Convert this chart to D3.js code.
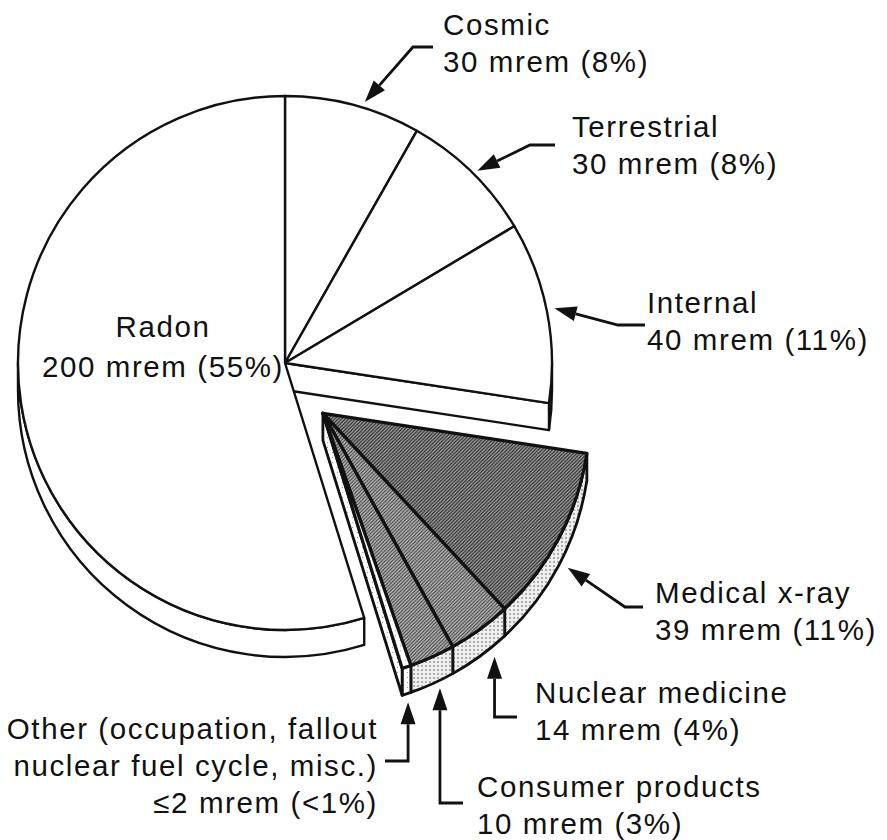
<!DOCTYPE html>
<html>
<head>
<meta charset="utf-8">
<script src="https://cdn.jsdelivr.net/npm/d3@7"></script>
<style>
    body { margin: 0; background: #fff; }
    svg text {
        font-family: "Liberation Sans", Arial, Helvetica, sans-serif;
        font-size: 29.5px;
        letter-spacing: 1.6px;
        fill: #111;
    }
</style>
</head>
<body>
<div id="vis"></div>
<script>
// annual dose by source, clockwise from 12 o'clock
let sources = ['Cosmic', 'Terrestrial', 'Internal', 'Medical x-ray', 'Nuclear medicine', 'Consumer products', 'Other', 'Radon'];
let mrem = [30, 30, 40, 39, 14, 10, 2, 200];
let manMade = [false, false, false, true, true, true, true, false];

let labelLines = [
    ['Cosmic', '30 mrem (8%)'],
    ['Terrestrial', '30 mrem (8%)'],
    ['Internal', '40 mrem (11%)'],
    ['Medical x-ray', '39 mrem (11%)'],
    ['Nuclear medicine', '14 mrem (4%)'],
    ['Consumer products', '10 mrem (3%)'],
    ['Other (occupation, fallout', 'nuclear fuel cycle, misc.)', '\u22642 mrem (<1%)'],
    ['Radon', '200 mrem (55%)']
];

let width = 887, height = 840;
let radius = 267, depth = 27;
let center = [285, 363];
let explodeDist = 63, explodeAngle = 143 * Math.PI / 180;
let lineGap = 37;
let ink = '#111';

// callout layout: where the arrow points (degrees on the pie) and where the text sits
let callouts = {
    'Cosmic':            {angle: 17,    ring: 'top',    mode: 'radial', gap: 6,  knee: [[413, 47], [433, 47]],   text: [443, 35],  anchor: 'start'},
    'Terrestrial':       {angle: 45,    ring: 'top',    mode: 'radial', gap: 5,  knee: [[530, 145], [555, 145]], text: [572, 137], anchor: 'start'},
    'Internal':          {angle: 78.5,  ring: 'top',    mode: 'radial', gap: 8,  knee: [[618, 325], [645, 325]], text: [647, 313], anchor: 'start'},
    'Medical x-ray':     {angle: 117.5, ring: 'bottom', mode: 'radial', gap: 9,  knee: [[625, 607], [643, 607]], text: [655, 603], anchor: 'start'},
    'Nuclear medicine':  {angle: 140,   ring: 'bottom', mode: 'down',   gap: 12, kneeY: 717, endX: 517, text: [535, 703], anchor: 'start'},
    'Consumer products': {angle: 154,   ring: 'bottom', mode: 'down',   gap: 8,  kneeY: 803, endX: 463, text: [477, 797], anchor: 'start'},
    'Other':             {angle: 161.4, ring: 'bottom', mode: 'down',   gap: 9,  kneeY: 761, endX: 385, text: [378, 739], anchor: 'end'}
};

let svg = d3.select('#vis')
    .append('svg')
    .attr('width', width)
    .attr('height', height);

// halftone-ish shadings
let defs = svg.append('defs');

function hatch(id, bg, lineColor, lw, step) {
    let p = defs.append('pattern')
        .attr('id', id)
        .attr('patternUnits', 'userSpaceOnUse')
        .attr('width', step)
        .attr('height', step);
    p.append('rect').attr('width', step).attr('height', step).attr('fill', bg);
    p.append('path')
        .attr('d', 'M0,' + step + ' L' + step + ',0 M-1,1 L1,-1 M' + (step - 1) + ',' + (step + 1) + ' L' + (step + 1) + ',' + (step - 1))
        .attr('stroke', lineColor)
        .attr('stroke-width', lw);
}

function dots(id, bg, dotColor, r, step) {
    let p = defs.append('pattern')
        .attr('id', id)
        .attr('patternUnits', 'userSpaceOnUse')
        .attr('width', step)
        .attr('height', step);
    p.append('rect').attr('width', step).attr('height', step).attr('fill', bg);
    p.append('circle').attr('cx', step / 2).attr('cy', step / 2).attr('r', r).attr('fill', dotColor);
}

hatch('medTop', '#a4a4a4', '#262626', 1.1, 3.5);
hatch('nucTop', '#b8b8b8', '#333', 1.0, 3.5);
dots('rimDots', '#efefef', '#5a5a5a', 0.8, 4);
dots('lightDots', '#ffffff', '#8a8a8a', 0.6, 5);

function topFill(name) {
    switch (name) {
        case 'Medical x-ray': return 'url(#medTop)';
        case 'Nuclear medicine':
        case 'Consumer products': return 'url(#nucTop)';
        case 'Other': return 'url(#lightDots)';
        default: return '#fff';
    }
}

function sideFill(name) {
    switch (name) {
        case 'Medical x-ray':
        case 'Nuclear medicine':
        case 'Consumer products': return 'url(#rimDots)';
        case 'Other': return 'url(#lightDots)';
        default: return '#fff';
    }
}

let pie = d3.pie().sort(null).value(d => d);
let slices = pie(mrem).map((d, i) => {
    d.name = sources[i];
    d.manMade = manMade[i];
    d.lines = labelLines[i];
    return d;
});

let explodedCenter = [
    center[0] + explodeDist * Math.sin(explodeAngle),
    center[1] - explodeDist * Math.cos(explodeAngle)
];

function centerOf(d) {
    return d.manMade ? explodedCenter : center;
}

function pt(c, a, r, dy) {
    return [c[0] + r * Math.sin(a), c[1] - r * Math.cos(a) + (dy || 0)];
}

// front rim of a slice (only the part facing the viewer)
function rimPath(d) {
    let c = centerOf(d);
    let lo = Math.max(d.startAngle, Math.PI / 2),
        hi = Math.min(d.endAngle, 3 * Math.PI / 2);
    if (lo >= hi) return null;
    let p = d3.path();
    let s = pt(c, lo, radius);
    p.moveTo(s[0], s[1]);
    p.arc(c[0], c[1], radius, lo - Math.PI / 2, hi - Math.PI / 2, false);
    let e = pt(c, hi, radius, depth);
    p.lineTo(e[0], e[1]);
    p.arc(c[0], c[1] + depth, radius, hi - Math.PI / 2, lo - Math.PI / 2, true);
    p.closePath();
    return p.toString();
}

// cut face along a radius
function facePath(c, a) {
    let p1 = pt(c, a, radius), p2 = pt(c, a, radius, depth);
    return 'M' + c + 'L' + p1 + 'L' + p2 + 'L' + [c[0], c[1] + depth] + 'Z';
}

let n = slices.length;
let topArc = d3.arc().innerRadius(0).outerRadius(radius);

function drawGroup(isManMade) {
    let g = svg.append('g').attr('class', isManMade ? 'man-made' : 'natural');
    let members = slices.filter(d => d.manMade === isManMade);
    let sw = isManMade ? 2.8 : 2.4;

    // rims
    g.selectAll('path.rim')
        .data(members.filter(d => rimPath(d)))
        .enter()
        .append('path')
        .attr('class', 'rim')
        .attr('d', rimPath)
        .attr('fill', d => sideFill(d.name))
        .attr('stroke', ink)
        .attr('stroke-width', sw)
        .attr('stroke-linejoin', 'round');

    // exposed cut faces where the group is split
    members.forEach(d => {
        let i = slices.indexOf(d);
        let next = slices[(i + 1) % n], prev = slices[(i - 1 + n) % n];
        if (next.manMade !== d.manMade && Math.sin(d.endAngle) > 0) {
            g.append('path').attr('d', facePath(centerOf(d), d.endAngle))
                .attr('fill', sideFill(d.name)).attr('stroke', ink).attr('stroke-width', sw).attr('stroke-linejoin', 'round');
        }
        if (prev.manMade !== d.manMade && -Math.sin(d.startAngle) > 0) {
            g.append('path').attr('d', facePath(centerOf(d), d.startAngle))
                .attr('fill', sideFill(d.name)).attr('stroke', ink).attr('stroke-width', sw).attr('stroke-linejoin', 'round');
        }
    });

    // top faces
    g.selectAll('path.top')
        .data(members)
        .enter()
        .append('path')
        .attr('class', 'top')
        .attr('transform', d => 'translate(' + centerOf(d) + ')')
        .attr('d', topArc)
        .attr('fill', d => topFill(d.name))
        .attr('stroke', ink)
        .attr('stroke-width', isManMade ? 3.2 : 2.4)
        .attr('stroke-linejoin', 'round');
}

drawGroup(false);
drawGroup(true);

// callouts
let notes = svg.append('g').attr('class', 'callouts');

slices.forEach(d => {
    let co = callouts[d.name];
    if (!co) return;
    let c = centerOf(d);
    let a = co.angle * Math.PI / 180;
    let tip, pts;
    if (co.mode === 'radial') {
        let ce = co.ring === 'bottom' ? [c[0], c[1] + depth] : c;
        tip = pt(ce, a, radius + co.gap);
        pts = [co.knee[1], co.knee[0], tip];
    } else {
        let base = pt(c, a, radius, depth);
        tip = [base[0], base[1] + co.gap];
        pts = [[co.endX, co.kneeY], [tip[0], co.kneeY], tip];
    }

    let from = pts[pts.length - 2];
    let ang = Math.atan2(tip[1] - from[1], tip[0] - from[0]);
    let headLen = 22, headW = 7.5;
    let back = [tip[0] - headLen * Math.cos(ang), tip[1] - headLen * Math.sin(ang)];

    notes.append('path')
        .attr('d', d3.line()(pts.slice(0, -1).concat([back])))
        .attr('fill', 'none')
        .attr('stroke', ink)
        .attr('stroke-width', 2.8);

    notes.append('path')
        .attr('d', d3.line()([
            tip,
            [back[0] + headW * Math.sin(ang), back[1] - headW * Math.cos(ang)],
            [back[0] - headW * Math.sin(ang), back[1] + headW * Math.cos(ang)]
        ]) + 'Z')
        .attr('fill', ink);

    let t = notes.append('text')
        .attr('x', co.text[0])
        .attr('y', co.text[1])
        .attr('text-anchor', co.anchor);
    d.lines.forEach((line, j) => {
        t.append('tspan')
            .attr('x', co.text[0])
            .attr('y', co.text[1] + j * lineGap)
            .text(line);
    });
});

// Radon label sits inside its slice, ending at the apex
let radon = slices.filter(d => d.name === 'Radon')[0];
let radonText = svg.append('text').attr('text-anchor', 'middle');
radonText.append('tspan').attr('x', 163).attr('y', 337).text(radon.lines[0]);
radonText.append('tspan').attr('x', 163).attr('y', 377).text(radon.lines[1]);
</script>
</body>
</html>
